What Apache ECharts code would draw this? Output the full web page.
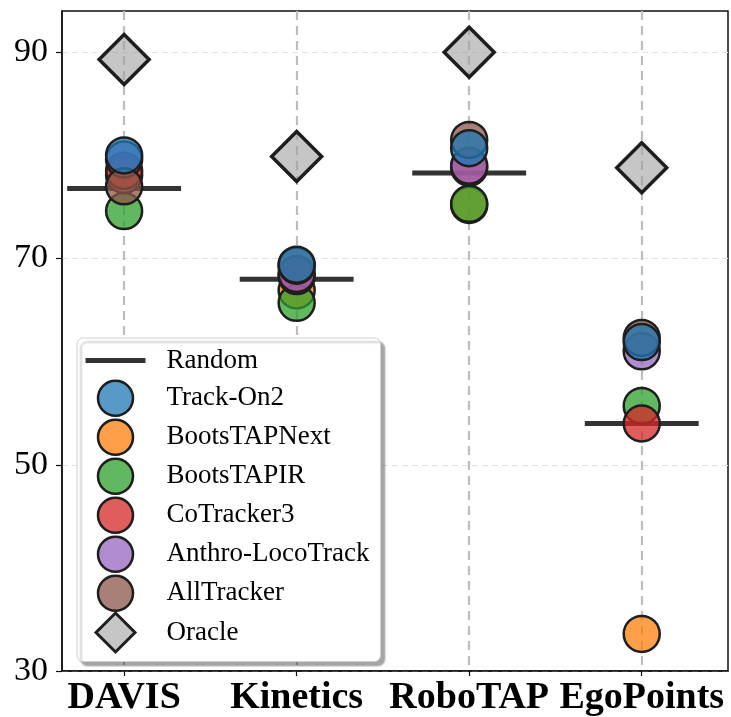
<!DOCTYPE html>
<html>
<head>
<meta charset="utf-8">
<script src="https://cdn.jsdelivr.net/npm/echarts@6/dist/echarts.min.js"></script>
<style>
  html, body { margin: 0; padding: 0; background: #fff; }
  #chart { width: 731px; height: 717px; }
</style>
</head>
<body>
<div id="chart"></div>
<script>
// datasets along x
const categories = ['DAVIS', 'Kinetics', 'RoboTAP', 'EgoPoints'];
const yTicks = [30, 50, 70, 90];

// scores per dataset (same order as categories)
const randomScores  = [76.8, 68.0, 78.3, 54.0];
const trackOn2      = [80.0, 69.4, 80.7, 61.9];
const bootsTAPNext  = [78.1, 66.9, 75.2, 33.6];
const bootsTAPIR    = [74.6, 65.7, 75.3, 55.7];
const coTracker3    = [78.5, 68.3, 78.8, 54.0];
const anthroLoco    = [79.6, 68.5, 79.0, 61.0];
const allTracker    = [77.0, 69.3, 81.5, 62.3];
const oracleScores  = [89.3, 79.9, 90.0, 78.8];

const serif = 'Liberation Serif';
const edge = '#1e1e1e';

function pts(arr) {
  return arr.map((v, i) => [i, v]);
}

// legend icons: invisible moveTo points fix the box so circles keep their size
const boxPts = 'M-30,-19.5 M46,19.5 ';
const circleIcon = 'path://' + boxPts + 'M-17.5,0 A17.5,17.5 0 1 1 17.5,0 A17.5,17.5 0 1 1 -17.5,0 Z';
const lineIcon = 'path://' + boxPts + 'M-30,-2.5 L30,-2.5 L30,2.5 L-30,2.5 Z';
const diamondIcon = 'path://' + boxPts + 'M0,-19.5 L19.5,0 L0,19.5 L-19.5,0 Z';

const methods = [
  { name: 'Track-On2', data: trackOn2, color: 'rgba(31,119,180,0.75)', z: 4 },
  { name: 'BootsTAPNext', data: bootsTAPNext, color: 'rgba(255,127,14,0.75)', z: 3 },
  { name: 'BootsTAPIR', data: bootsTAPIR, color: 'rgba(44,160,44,0.75)', z: 3 },
  { name: 'CoTracker3', data: coTracker3, color: 'rgba(214,39,40,0.75)', z: 3 },
  { name: 'Anthro-LocoTrack', data: anthroLoco, color: 'rgba(148,103,189,0.75)', z: 3 },
  { name: 'AllTracker', data: allTracker, color: 'rgba(140,86,75,0.75)', z: 3 }
];

const chart = echarts.init(document.getElementById('chart'));

const series = [{
  name: 'Random',
  type: 'custom',
  z: 2,
  itemStyle: { color: '#333' },
  renderItem: function (params, api) {
    const x = api.value(0), y = api.value(1);
    const a = api.coord([x - 0.33, y]);
    const b = api.coord([x + 0.33, y]);
    return {
      type: 'line',
      shape: { x1: a[0], y1: a[1], x2: b[0], y2: b[1] },
      style: { stroke: '#333', lineWidth: 5 }
    };
  },
  data: pts(randomScores)
}];

methods.forEach(m => {
  series.push({
    name: m.name,
    type: 'scatter',
    z: m.z,
    symbol: 'circle',
    symbolSize: 36,
    itemStyle: { color: m.color, borderColor: edge, borderWidth: 2.5, opacity: 1 },
    data: pts(m.data)
  });
});

series.push({
  name: 'Oracle',
  type: 'scatter',
  z: 3,
  symbol: 'diamond',
  symbolSize: 50,
  itemStyle: { color: 'rgba(160,160,160,0.6)', borderColor: edge, borderWidth: 3.5, opacity: 1 },
  data: pts(oracleScores)
});

const legendData = [{ name: 'Random', icon: lineIcon, itemStyle: { borderWidth: 0, color: '#333' } }]
  .concat(methods.map(m => ({ name: m.name, icon: circleIcon })))
  .concat([{ name: 'Oracle', icon: diamondIcon, itemStyle: { borderWidth: 3 } }]);

const option = {
  animation: false,
  backgroundColor: '#fff',
  grid: {
    left: 62, right: 3, top: 11, bottom: 46,
    show: true, borderColor: '#111', borderWidth: 1.5, backgroundColor: 'transparent'
  },
  legend: {
    orient: 'vertical',
    left: 77,
    top: 338,
    padding: [3, 11, 8, 7],
    itemWidth: 76,
    itemHeight: 39,
    itemGap: -2.5,
    symbolKeepAspect: true,
    backgroundColor: '#fff',
    borderColor: '#cfcfcf',
    borderWidth: 1,
    borderRadius: 6,
    shadowColor: 'rgba(0,0,0,0.35)',
    shadowBlur: 2,
    shadowOffsetX: 4,
    shadowOffsetY: 4,
    itemStyle: { borderColor: edge, borderWidth: 2.5 },
    textStyle: { fontFamily: serif, fontSize: 27, color: '#000', padding: [0, 0, 0, 0] },
    data: legendData
  },
  xAxis: {
    type: 'value',
    min: -0.36,
    max: 3.5,
    axisLine: { show: true, onZero: false, lineStyle: { color: '#111', width: 1.5 } },
    axisTick: { show: true, customValues: [0, 1, 2, 3], length: 5, lineStyle: { color: '#111', width: 1.2 } },
    axisLabel: {
      customValues: [0, 1, 2, 3],
      formatter: v => categories[Math.round(v)],
      fontFamily: serif, fontWeight: 'bold', fontSize: 38, color: '#000', margin: 8
    },
    splitLine: { show: true, lineStyle: { color: '#bdbdbd', width: 2.2, type: [9, 6] } }
  },
  yAxis: {
    type: 'value',
    min: 30,
    max: 94,
    axisLine: { show: true, onZero: false, lineStyle: { color: '#111', width: 1.5 } },
    axisTick: { show: true, customValues: yTicks, length: 6, lineStyle: { color: '#111', width: 1.2 } },
    axisLabel: {
      customValues: yTicks,
      fontFamily: serif, fontSize: 34, color: '#000', margin: 14
    },
    splitLine: { show: true, lineStyle: { color: '#e2e2e2', width: 1.2, type: [6, 4] } }
  },
  series: series
};

chart.setOption(option);
</script>
</body>
</html>
